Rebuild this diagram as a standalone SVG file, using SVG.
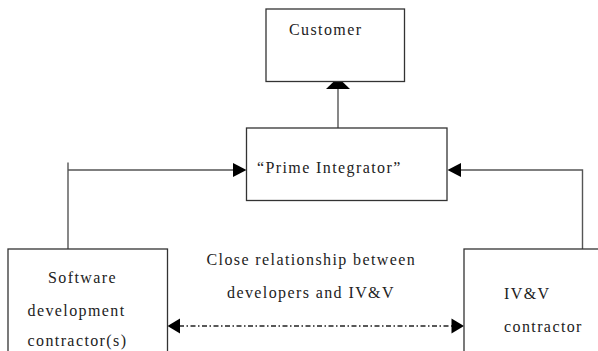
<svg xmlns="http://www.w3.org/2000/svg" width="598" height="351" viewBox="0 0 598 351">
<style>
.box{fill:#fff;stroke:#333;stroke-width:1.3}
.ln{fill:none;stroke:#555;stroke-width:1.4}
.dash{fill:none;stroke:#222;stroke-width:1.3;stroke-dasharray:5 2.5 1.5 2.5}
.ah{fill:#000}
text{font-family:"Liberation Serif","Times New Roman",serif;font-size:16px;letter-spacing:1.4px;fill:#222}
</style>
<rect width="598" height="351" fill="#fff"/>
<g id="connectors">
  <line class="ln" x1="338" y1="128" x2="338" y2="88"/>
  <polygon class="ah" points="338,77.5 326,89 350,89"/>
  <polyline class="ln" points="68,249 68,162.5"/>
  <line class="ln" x1="68" y1="170" x2="234" y2="170"/>
  <polygon class="ah" points="246.5,170 233,163 233,177"/>
  <polyline class="ln" points="582.5,249 582.5,170 460,170"/>
  <polygon class="ah" points="447.5,170 461,163 461,177"/>
  <line class="dash" x1="179" y1="326" x2="452" y2="326"/>
  <polygon class="ah" points="167.5,326 180,318.5 180,333.5"/>
  <polygon class="ah" points="464,326 451.5,318.5 451.5,333.5"/>
  <text x="206.5" y="264.5">Close relationship between</text>
  <text x="227" y="298">developers and IV&amp;V</text>
</g>
<g id="customer">
  <rect class="box" x="266" y="9" width="138.5" height="72.5"/>
  <text x="289" y="35">Customer</text>
</g>
<g id="prime">
  <rect class="box" x="246.5" y="128" width="200.5" height="72.5"/>
  <text x="257" y="172.5">“Prime Integrator”</text>
</g>
<g id="software">
  <rect class="box" x="8" y="249" width="159.5" height="110"/>
  <text x="48" y="282.5">Software</text>
  <text x="27.5" y="315.5">development</text>
  <text x="27.5" y="346">contractor(s)</text>
</g>
<g id="ivv">
  <rect class="box" x="464" y="249" width="150" height="110"/>
  <text x="504" y="299">IV&amp;V</text>
  <text x="504" y="332">contractor</text>
</g>
</svg>
